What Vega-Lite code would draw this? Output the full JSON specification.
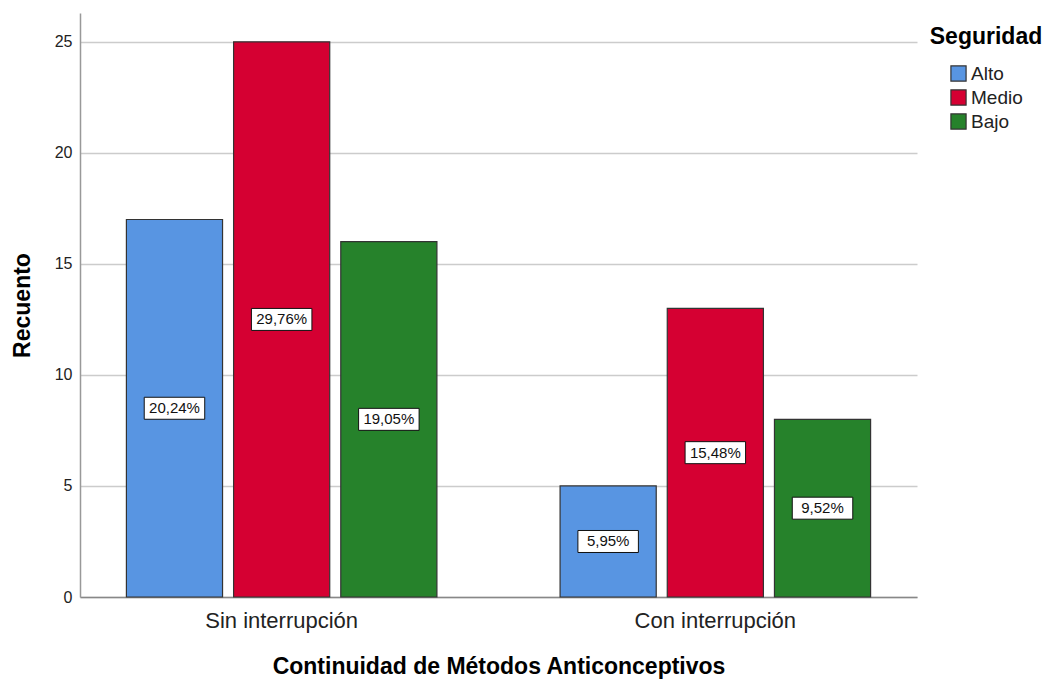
{
  "$schema": "https://vega.github.io/schema/vega-lite/v6.json",
  "autosize": "none",
  "width": 837,
  "height": 584,
  "padding": {"left": 80, "top": 13, "right": 128, "bottom": 83},
  "background": "white",
  "config": {
    "font": "Liberation Sans",
    "view": {"stroke": null}
  },
  "data": {
    "values": [
      {"cat": "Sin interrupción", "seg": "Alto", "count": 17, "pct": "20,24%"},
      {"cat": "Sin interrupción", "seg": "Medio", "count": 25, "pct": "29,76%"},
      {"cat": "Sin interrupción", "seg": "Bajo", "count": 16, "pct": "19,05%"},
      {"cat": "Con interrupción", "seg": "Alto", "count": 5, "pct": "5,95%"},
      {"cat": "Con interrupción", "seg": "Medio", "count": 13, "pct": "15,48%"},
      {"cat": "Con interrupción", "seg": "Bajo", "count": 8, "pct": "9,52%"}
    ]
  },
  "transform": [{"calculate": "datum.count / 2", "as": "mid"}],
  "encoding": {
    "x": {
      "field": "cat",
      "type": "nominal",
      "sort": ["Sin interrupción", "Con interrupción"],
      "scale": {"paddingInner": 0.284, "paddingOuter": 0.107},
      "axis": {
        "title": "Continuidad de Métodos Anticonceptivos",
        "titleFont": "Liberation Sans",
        "titleFontSize": 23,
        "titleFontWeight": "bold",
        "titleColor": "#000000",
        "titlePadding": 24,
        "labelFontSize": 22,
        "labelColor": "#222222",
        "labelAngle": 0,
        "labelPadding": 13,
        "ticks": false,
        "domainColor": "#888888",
        "domainWidth": 1.5
      }
    },
    "xOffset": {
      "field": "seg",
      "type": "nominal",
      "sort": ["Alto", "Medio", "Bajo"],
      "scale": {"paddingInner": 0.103, "paddingOuter": 0}
    }
  },
  "layer": [
    {
      "mark": {"type": "bar", "stroke": "#333333", "strokeWidth": 1.2},
      "encoding": {
        "y": {
          "field": "count",
          "type": "quantitative",
          "scale": {"domain": [0, 26.3], "nice": false},
          "axis": {
            "title": "Recuento",
            "titleFontSize": 23,
            "titleFontWeight": "bold",
            "titleColor": "#000000",
            "titlePadding": 20,
            "values": [0, 5, 10, 15, 20, 25],
            "labelFontSize": 16,
            "labelColor": "#222222",
            "labelPadding": 8,
            "ticks": false,
            "grid": true,
            "gridColor": "#cccccc",
            "gridWidth": 1.3,
            "domainColor": "#999999",
            "domainWidth": 1.5
          }
        },
        "color": {
          "field": "seg",
          "type": "nominal",
          "sort": ["Alto", "Medio", "Bajo"],
          "scale": {"domain": ["Alto", "Medio", "Bajo"], "range": ["#5895e2", "#d50032", "#26822b"]},
          "legend": {
            "title": "Seguridad",
            "orient": "none",
            "legendX": 850,
            "legendY": 13,
            "titleFontSize": 23,
            "titleFontWeight": "bold",
            "titleColor": "#000000",
            "titleAnchor": "middle",
            "titlePadding": 15,
            "labelFontSize": 19,
            "labelColor": "#222222",
            "labelOffset": 3,
            "symbolType": "square",
            "symbolSize": 230,
            "symbolStrokeColor": "#333333",
            "symbolStrokeWidth": 1.2,
            "rowPadding": 3
          }
        }
      }
    },
    {
      "mark": {
        "type": "point",
        "shape": "M-2.75,-1H2.75V1H-2.75Z",
        "size": 484,
        "filled": true,
        "fill": "white",
        "stroke": "#111111",
        "strokeWidth": 1,
        "opacity": 1
      },
      "encoding": {
        "y": {"field": "mid", "type": "quantitative"}
      }
    },
    {
      "mark": {"type": "text", "fontSize": 15, "color": "#111111", "baseline": "middle", "align": "center"},
      "encoding": {
        "y": {"field": "mid", "type": "quantitative"},
        "text": {"field": "pct"}
      }
    }
  ]
}
